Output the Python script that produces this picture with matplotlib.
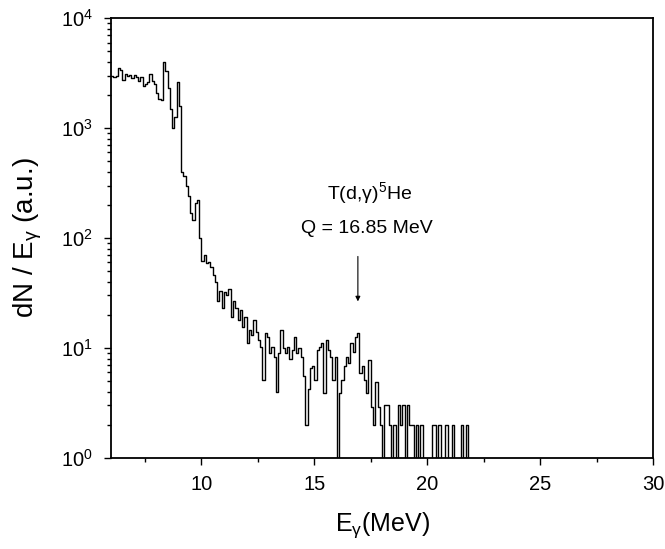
import numpy as np
import matplotlib
matplotlib.use("Agg")
import matplotlib.pyplot as plt
from matplotlib.ticker import MultipleLocator

plt.rcParams["font.family"] = ["Liberation Sans", "DejaVu Sans"]
plt.rcParams["mathtext.fontset"] = "custom"
plt.rcParams["mathtext.rm"] = "Liberation Sans"
plt.rcParams["mathtext.it"] = "Liberation Sans:italic"

# histogram: 0.1 MeV bins starting at 6.0 MeV
E_START = 6.0
BIN_WIDTH = 0.1

counts_6_10 = [3000, 2900, 3000, 3500, 3400, 2750, 3100, 2950, 3050, 2850,
               3050, 2900, 2700, 2900, 2400, 2500, 2600, 3100, 2700, 2500,
               2100, 1850, 1800, 4000, 3300, 2300, 1500, 1000, 1250, 2600,
               1600, 400, 370, 300, 240, 170, 145, 210, 220, 100]
counts_10_14 = [62, 70, 59, 61, 55, 46, 40, 27, 33, 23,
                32, 30, 34, 19, 27, 23, 18, 22, 15.6, 19,
                11, 14.6, 13, 18, 14, 11.8, 10.3, 5.1, 13.6, 12.7,
                9, 10.3, 8.3, 4.0, 9, 14.6, 10, 9, 10.3, 8]
counts_14_18 = [9.6, 12.7, 9, 10, 8.3, 5.5, 2.0, 4.2, 6.5, 6.8,
                5.1, 9.6, 10.3, 11, 3.9, 11.8, 9.6, 8.3, 5.1, 8.3,
                0, 3.9, 5.1, 6.8, 8.3, 7.3, 11, 9.2, 12.7, 13.8,
                5.9, 6.8, 5.1, 3.9, 7.8, 2.9, 2.0, 4.9, 2.9, 2.0]
counts_18_22 = [0, 3, 3, 2, 0, 2, 0, 3, 2, 3,
                0, 3, 2, 2, 0, 2, 0, 2, 0, 0,
                0, 0, 2, 2, 0, 2, 0, 0, 2, 0,
                0, 2, 0, 0, 0, 2, 0, 2, 0, 0]

counts = np.array(counts_6_10 + counts_10_14 + counts_14_18 + counts_18_22, dtype=float)
edges = E_START + BIN_WIDTH * np.arange(len(counts) + 1)

fig = plt.figure(figsize=(6.65, 5.49), dpi=100)
ax = fig.add_axes([0.167, 0.166, 0.815, 0.801])

ax.step(edges, np.append(counts, counts[-1]), where="post", color="black", lw=1.0)

ax.set_yscale("log", nonpositive="clip")
ax.set_xlim(6, 30)
ax.set_ylim(1, 1e4)
ax.xaxis.set_major_locator(MultipleLocator(5))
ax.xaxis.set_minor_locator(MultipleLocator(2.5))

ax.tick_params(which="both", direction="out", top=False, right=False, labelsize=14.5, width=1.0)
ax.tick_params(which="major", length=5)
ax.tick_params(which="minor", length=3)
ax.tick_params(axis="y", which="major", pad=8)
ax.tick_params(axis="x", which="major", pad=7)
for s in ax.spines.values():
    s.set_linewidth(1.3)

ax.set_xlabel(r"E$_{\mathrm{γ}}$(MeV)", fontsize=18, labelpad=12)
ax.set_ylabel(r"dN / E$_{\mathrm{γ}}$ (a.u.)", fontsize=20, labelpad=12)

# annotation for the capture line
ax.text(17.45, 257, r"T(d,γ)$^{\mathrm{5}}$He", fontsize=14, ha="center", va="center")
ax.text(17.35, 123, "Q = 16.85 MeV", fontsize=14, ha="center", va="center")
ax.annotate("", xy=(16.93, 25), xytext=(16.93, 72),
            arrowprops=dict(arrowstyle="-|>", color="black", lw=0.8, mutation_scale=7))

fig.savefig("out.png", dpi=100)
